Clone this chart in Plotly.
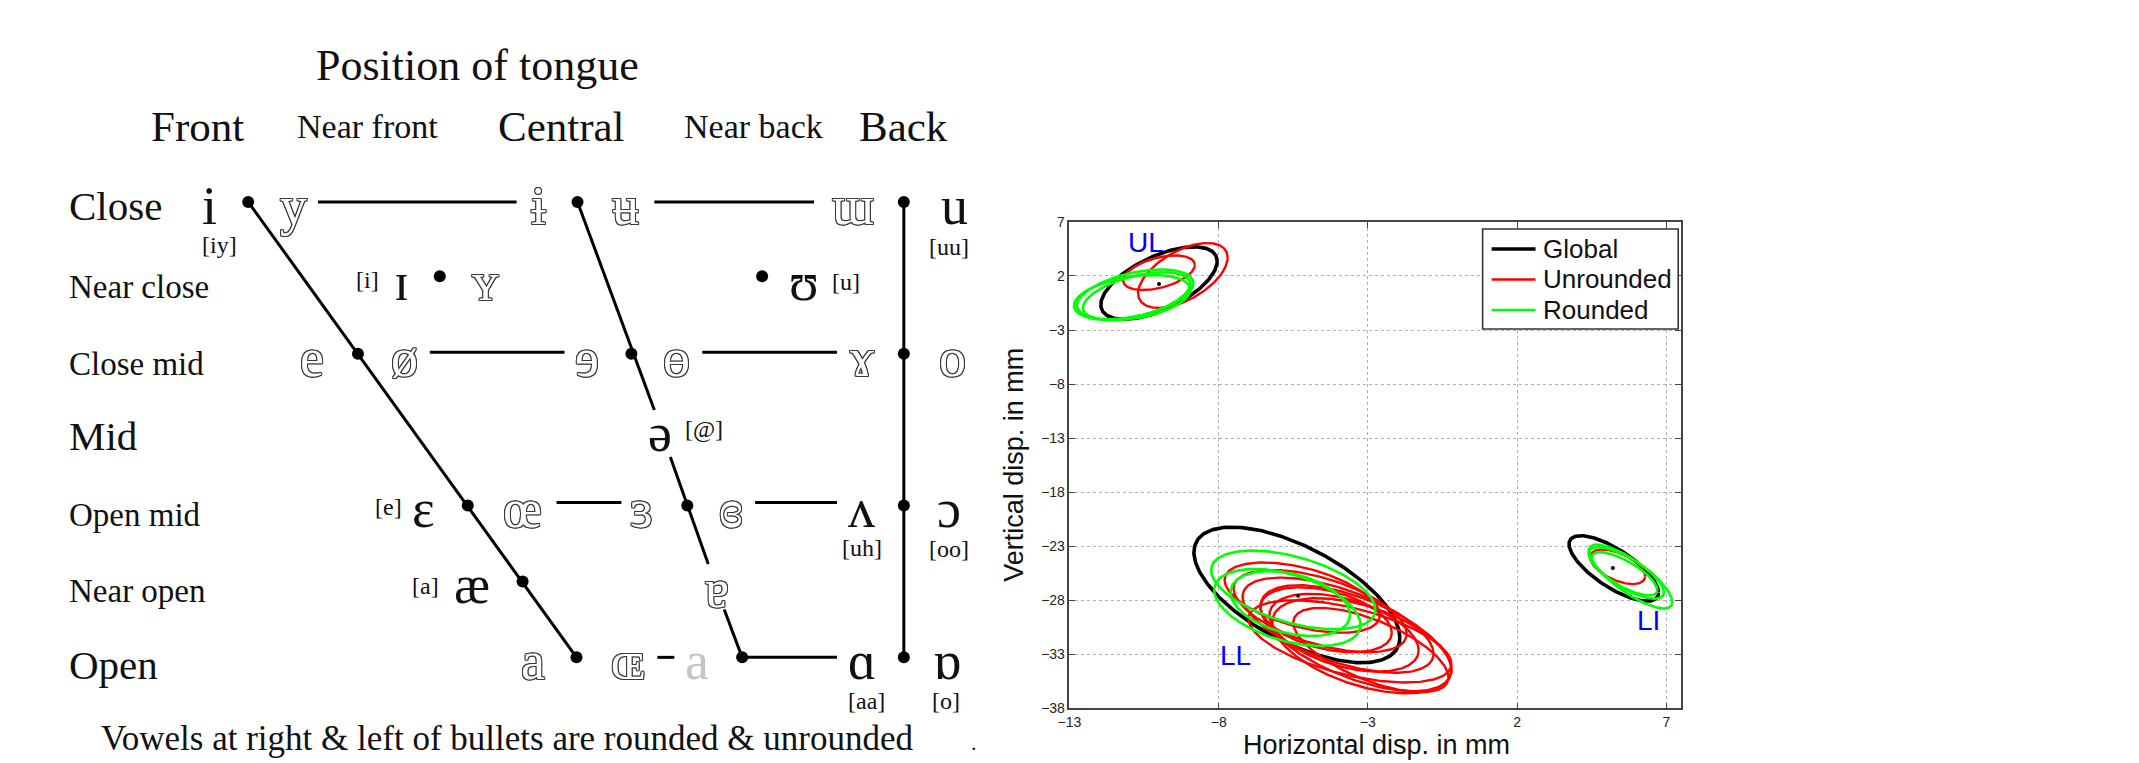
import numpy as np
import plotly.graph_objects as go

# ================= RIGHT PANEL: lip-marker covariance ellipses =================
# each ellipse: centre (cx, cy), half extents (sx, sy) and correlation r, in mm
global_cx = [-10.0, -5.38, 5.24]
global_cy = [1.35, -27.5, -25.05]
global_sx = [1.95, 3.45, 1.5]
global_sy = [3.35, 6.27, 3.03]
global_r = [0.6, -0.63, -0.74]

unrounded_cx = [-9.2, -10.0, -5.2, -4.6, -4.0, -3.4, -3.2, -3.8, -4.4, -2.9, -3.6, 5.37]
unrounded_cy = [2.05, 2.3, -27.75, -29.0, -30.3, -31.5, -32.2, -31.0, -29.8, -32.6, -31.8, -24.9]
unrounded_sx = [1.5, 1.2, 2.6, 2.9, 3.2, 3.2, 3.0, 2.5, 2.2, 2.6, 3.4, 0.92]
unrounded_sy = [3.0, 1.6, 3.25, 3.8, 4.4, 4.9, 4.4, 3.6, 3.0, 3.9, 3.8, 1.6]
unrounded_r = [0.55, 0.45, -0.5, -0.55, -0.6, -0.6, -0.5, -0.45, -0.4, -0.65, -0.55, -0.55]

rounded_cx = [-10.8, -10.9, -10.75, -5.5, -5.7, -5.6, 5.8, 5.66, 5.6]
rounded_cy = [0.3, 0.0, 0.15, -27.04, -28.66, -28.3, -25.8, -25.47, -25.55]
rounded_sx = [1.95, 1.95, 1.8, 2.75, 2.45, 2.0, 1.4, 1.26, 1.1]
rounded_sy = [2.3, 2.1, 2.2, 3.64, 3.56, 3.0, 2.95, 2.38, 2.0]
rounded_r = [0.45, 0.35, 0.5, -0.5, -0.45, -0.35, -0.8, -0.75, -0.75]

mean_x = [-10.0, -5.34, 5.21]
mean_y = [1.26, -27.58, -25.02]

region_names = ["UL", "LL", "LI"]
region_x = [-10.45, -7.45, 6.42]
region_y = [5.1, -33.1, -29.9]

legend_names = ["Global", "Unrounded", "Rounded"]
legend_colors = ["#000000", "#ff0000", "#00ff00"]
legend_widths = [3.6, 2.4, 2.6]

x_ticks = [-13, -8, -3, 2, 7]
y_ticks = [7, 2, -3, -8, -13, -18, -23, -28, -33, -38]

# ================= LEFT PANEL: IPA vowel chart =================
title_text = "Position of tongue"
footer_text = "Vowels at right & left of bullets are rounded & unrounded"

row_names = ["Close", "Near close", "Close mid", "Mid", "Open mid", "Near open", "Open"]
row_label_pos = [0.06, 1.12, 2.13, 3.08, 4.13, 5.13, 6.1]
row_big = [True, False, False, True, False, False, True]

col_names = ["Front", "Near front", "Central", "Near back", "Back"]
col_x = [196, 367, 561, 753, 904]
col_big = [True, False, True, False, True]

vowel_glyph = ["i", "y", "ɨ", "ʉ", "ɯ", "u",
               "ɪ", "ʏ", "ʊ",
               "e", "ø", "ɘ", "ɵ", "ɤ", "o",
               "ə",
               "ɛ", "œ", "ɜ", "ɞ", "ʌ", "ɔ",
               "æ", "ɐ",
               "a", "ɶ", "a", "ɑ", "ɒ"]
vowel_x = [208, 292, 538, 625, 853, 955,
           401, 485, 804,
           311, 404, 587, 676, 862, 953,
           660,
           423, 522, 641, 731, 862, 949,
           471, 717,
           532, 628, 697, 862, 947]
vowel_row = [0, 0, 0, 0, 0, 0,
             1, 1, 1,
             2, 2, 2, 2, 2, 2,
             3,
             4, 4, 4, 4, 4, 4,
             5, 5.05,
             6, 6, 6, 6, 6]
vowel_style = ["solid", "outline", "outline", "outline", "outline", "solid",
               "solid", "outline", "solid",
               "outline", "outline", "outline", "outline", "outline", "outline",
               "solid",
               "solid", "outline", "outline", "outline", "solid", "solid",
               "solid", "outline",
               "outline", "outline", "gray", "solid", "solid"]

note_text = ["[iy]", "[uu]", "[i]", "[u]", "[@]", "[e]", "[uh]", "[oo]", "[a]", "[aa]", "[o]"]
note_x = [218, 949, 367, 846, 704, 388, 862, 949, 425, 867, 946]
note_row = [0.57, 0.59, 1.03, 1.05, 2.99, 4.02, 4.56, 4.57, 5.06, 6.57, 6.57]

bullet_x = [247, 577, 904, 439, 762, 357, 631, 904, 467, 687, 904, 522, 576, 742, 904]
bullet_row = [0, 0, 0, 0.98, 0.98, 2, 2, 2, 4, 4, 4, 5, 6, 6, 6]

hline_row = [0, 0, 1.98, 1.98, 3.96, 3.96, 6, 6]
hline_x0 = [317, 654, 429, 702, 556, 755, 742, 657]
hline_x1 = [516, 814, 564, 837, 621, 837, 837, 674]

# slanted / vertical guide segments (x0, row0, x1, row1)
seg_x0 = [247, 577, 670, 724, 904]
seg_r0 = [0, 0, 3.36, 5.37, 0]
seg_x1 = [576, 654, 708, 742, 904]
seg_r1 = [6, 2.74, 4.77, 6, 6]

# ---------------------------------------------------------------------------
# Placements are written in target window pixels and mapped to the figure
# with a small calibration (scale + offset) of the page capture.
WIN_W, WIN_H, P = 2139, 763, 8
FW, FH = WIN_W - 2 * P, 762
SX, OX = 1.0036, -10.4
SY, OY = 1.0225, -6.6
ROW0_Y, ROW_H = 200, 75.83


def fx(X):
    return SX * X + OX - P


def fy(Y):
    return SY * Y + OY - P


def pxx(X):
    return fx(X) / FW


def pxy(Y):
    return 1 - fy(Y) / FH


x2_lo = (0 + P - OX) / SX
x2_hi = (1000 + P - OX) / SX
y2_top = ((0 + P - OY) / SY - ROW0_Y) / ROW_H
y2_bot = ((FH + P - OY) / SY - ROW0_Y) / ROW_H

fig = go.Figure()
t = np.linspace(0, 2 * np.pi, 240)


def ellipse(cx, cy, sx, sy, r):
    x = cx + sx * np.cos(t)
    y = cy + sy * (r * np.cos(t) + np.sqrt(1 - r * r) * np.sin(t))
    return x, y


groups = [
    (legend_names[0], legend_colors[0], legend_widths[0], global_cx, global_cy, global_sx, global_sy, global_r),
    (legend_names[1], legend_colors[1], legend_widths[1], unrounded_cx, unrounded_cy, unrounded_sx, unrounded_sy, unrounded_r),
    (legend_names[2], legend_colors[2], legend_widths[2], rounded_cx, rounded_cy, rounded_sx, rounded_sy, rounded_r),
]
for name, col, lw, cxs, cys, sxs, sys_, rs in groups:
    for cx, cy, sx, sy, r in zip(cxs, cys, sxs, sys_, rs):
        ex, ey = ellipse(cx, cy, sx, sy, r)
        fig.add_trace(go.Scatter(
            x=ex, y=ey, mode="lines", line=dict(color=col, width=lw),
            name=name, legendgroup=name, showlegend=False,
            xaxis="x", yaxis="y", hoverinfo="skip"))

fig.add_trace(go.Scatter(x=mean_x, y=mean_y, mode="markers",
                         marker=dict(color="black", size=4),
                         showlegend=False, xaxis="x", yaxis="y", hoverinfo="skip"))

# ---- IPA chart lines and bullets ----
for r0, a, b in zip(hline_row, hline_x0, hline_x1):
    fig.add_trace(go.Scatter(x=[a, b], y=[r0, r0], mode="lines",
                             line=dict(color="black", width=3),
                             showlegend=False, xaxis="x2", yaxis="y2", hoverinfo="skip"))
for a, ra, b, rb in zip(seg_x0, seg_r0, seg_x1, seg_r1):
    fig.add_trace(go.Scatter(x=[a, b], y=[ra, rb], mode="lines",
                             line=dict(color="black", width=3),
                             showlegend=False, xaxis="x2", yaxis="y2", hoverinfo="skip"))
fig.add_trace(go.Scatter(x=bullet_x, y=bullet_row, mode="markers",
                         marker=dict(color="black", size=12),
                         showlegend=False, xaxis="x2", yaxis="y2", hoverinfo="skip"))

SERIF = "Liberation Serif, DejaVu Serif, serif"
SANS = "Liberation Sans, Arial, sans-serif"
OUTLINE = ("1px 0px 0px #3a3a3a, -1px 0px 0px #3a3a3a, 0px 1px 0px #3a3a3a, "
           "0px -1px 0px #3a3a3a, 1px 1px 0px #3a3a3a, -1px -1px 0px #3a3a3a, "
           "1px -1px 0px #3a3a3a, -1px 1px 0px #3a3a3a")

ann = []
ann.append(dict(text=title_text, x=477, y=-1.8, xref="x2", yref="y2", showarrow=False,
                font=dict(family=SERIF, size=44, color="#111")))
for name, cx, big in zip(col_names, col_x, col_big):
    ann.append(dict(text=name, x=cx, y=-0.99, xref="x2", yref="y2", showarrow=False,
                    font=dict(family=SERIF, size=43 if big else 34, color="#111")))
for name, ry, big in zip(row_names, row_label_pos, row_big):
    ann.append(dict(text=name, x=65, y=ry, xref="x2", yref="y2", xanchor="left",
                    showarrow=False,
                    font=dict(family=SERIF, size=41 if big else 33, color="#111")))
for g, vx, vr, st in zip(vowel_glyph, vowel_x, vowel_row, vowel_style):
    if st == "outline":
        f = dict(family=SERIF, size=54, color="white", shadow=OUTLINE)
    elif st == "gray":
        f = dict(family=SERIF, size=54, color="#c4c4c4")
    else:
        f = dict(family=SERIF, size=54, color="#111")
    ann.append(dict(text=g, x=vx, y=vr + 0.05, xref="x2", yref="y2", showarrow=False, font=f))
for nt, nx, nr in zip(note_text, note_x, note_row):
    ann.append(dict(text=nt, x=nx, y=nr, xref="x2", yref="y2", showarrow=False,
                    font=dict(family=SERIF, size=24, color="#111")))
ann.append(dict(text=footer_text, x=506, y=7.07, xref="x2", yref="y2", showarrow=False,
                font=dict(family=SERIF, size=35, color="#111")))
ann.append(dict(text=".", x=974, y=7.12, xref="x2", yref="y2", showarrow=False,
                font=dict(family=SERIF, size=22, color="#111")))

# ---- right panel texts ----
for nm, rx, ry in zip(region_names, region_x, region_y):
    ann.append(dict(text=nm, x=rx, y=ry, xref="x", yref="y", showarrow=False,
                    font=dict(family=SANS, size=28, color="#0000ff")))
ann.append(dict(text="Horizontal disp. in mm", x=pxx(1378), y=pxy(743), xref="paper",
                yref="paper", xanchor="center", yanchor="middle", showarrow=False,
                font=dict(family=SANS, size=27, color="#111")))
ann.append(dict(text="Vertical disp. in mm", x=pxx(1015), y=pxy(463), xref="paper",
                yref="paper", xanchor="center", yanchor="middle", showarrow=False,
                textangle=-90, font=dict(family=SANS, size=27, color="#111")))

# ---- legend box ----
shapes = [dict(type="rect", xref="paper", yref="paper",
               x0=pxx(1484), x1=pxx(1680), y0=pxy(327), y1=pxy(227),
               fillcolor="white", line=dict(color="#333", width=1.6), layer="above")]
for k, (nm, col, lw) in enumerate(zip(legend_names, legend_colors, legend_widths)):
    yy = pxy(247 + 30.5 * k)
    shapes.append(dict(type="line", xref="paper", yref="paper",
                       x0=pxx(1493), x1=pxx(1537), y0=yy, y1=yy,
                       line=dict(color=col, width=lw), layer="above"))
    ann.append(dict(text=nm, x=pxx(1542), y=yy, xref="paper", yref="paper",
                    xanchor="left", yanchor="middle", showarrow=False,
                    font=dict(family=SANS, size=26, color="#111")))

axis_common = dict(showgrid=True, gridcolor="#b0b0b0", griddash="dot", gridwidth=1,
                   zeroline=False, showline=True, mirror="ticks", linecolor="#444",
                   linewidth=1.6, ticks="inside", ticklen=6, tickcolor="#444",
                   tickfont=dict(family=SANS, size=14, color="#222"))

fig.update_layout(
    width=FW, height=FH,
    margin=dict(l=0, r=0, t=0, b=0),
    paper_bgcolor="white", plot_bgcolor="rgba(0,0,0,0)",
    xaxis=dict(domain=[pxx(1070), pxx(1683)], range=[-13, 7.5], tickvals=x_ticks,
               anchor="y", **axis_common),
    yaxis=dict(domain=[pxy(706), pxy(220)], range=[-38, 7], tickvals=y_ticks,
               anchor="x", **axis_common),
    xaxis2=dict(domain=[0, 1000 / FW], range=[x2_lo, x2_hi], visible=False, anchor="y2"),
    yaxis2=dict(domain=[0, 1], range=[y2_bot, y2_top], visible=False, anchor="x2"),
    annotations=ann,
    shapes=shapes,
    showlegend=False,
)

fig.write_html("out.html", config={"displayModeBar": False})
